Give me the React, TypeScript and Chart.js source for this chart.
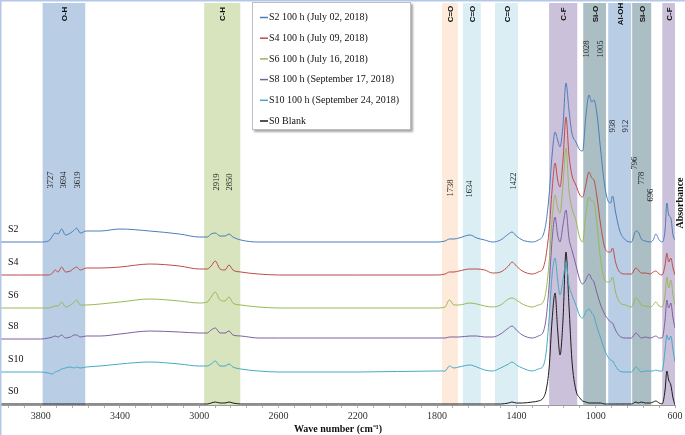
import React, { useEffect, useRef } from 'react';
import { Chart, registerables } from 'chart.js';

Chart.register(...registerables);

// ---------- data ----------
const wavenumbers = [
  4000, 3900, 3800, 3760, 3740, 3727, 3712, 3694, 3675, 3650,
  3630, 3619, 3600, 3570, 3500, 3400, 3250, 3100, 3000, 2960,
  2940, 2919, 2895, 2870, 2850, 2830, 2790, 2700, 2600, 2200,
  1800, 1760, 1738, 1715, 1690, 1634, 1600, 1560, 1520, 1480,
  1440, 1422, 1400, 1370, 1320, 1290, 1265, 1250, 1235, 1220,
  1205, 1192, 1180, 1165, 1150, 1135, 1120, 1100, 1080, 1066,
  1050, 1034, 1020, 1009, 995, 975, 955, 935, 925, 915,
  900, 880, 850, 820, 797, 785, 770, 750, 725, 710,
  697, 680, 665, 650, 641, 632, 621, 610, 600,
];

const seriesNames = [
  'S2 100 h (July 02, 2018)',
  'S4 100 h (July 09, 2018)',
  'S6 100 h (July 16, 2018)',
  'S8 100 h (September 17, 2018)',
  'S10 100 h (September 24, 2018)',
  'S0 Blank',
];
const seriesTags = ['S2', 'S4', 'S6', 'S8', 'S10', 'S0'];

const s2 = [
  1.63, 1.63, 1.63, 1.64, 1.69, 1.72, 1.71, 1.76, 1.70, 1.72,
  1.75, 1.77, 1.72, 1.74, 1.74, 1.76, 1.74, 1.71, 1.68, 1.68,
  1.71, 1.72, 1.69, 1.69, 1.71, 1.68, 1.65, 1.63, 1.63, 1.63,
  1.63, 1.64, 1.66, 1.66, 1.67, 1.70, 1.67, 1.65, 1.63, 1.65,
  1.71, 1.73, 1.69, 1.65, 1.63, 1.65, 1.70, 1.83, 2.10, 2.50,
  2.73, 2.65, 2.58, 2.80, 3.22, 2.95, 2.72, 2.63, 2.55, 2.54,
  2.88, 3.10, 3.03, 3.05, 2.93, 2.55, 2.20, 2.03, 2.02, 2.09,
  1.93, 1.75, 1.65, 1.63, 1.74, 1.73, 1.66, 1.64, 1.63, 1.65,
  1.71, 1.65, 1.63, 1.75, 2.02, 1.90, 1.87, 1.70, 1.65,
];
const s4 = [
  1.30, 1.30, 1.30, 1.30, 1.32, 1.35, 1.33, 1.38, 1.33, 1.34,
  1.37, 1.38, 1.35, 1.37, 1.37, 1.38, 1.41, 1.39, 1.36, 1.36,
  1.39, 1.44, 1.36, 1.35, 1.40, 1.35, 1.33, 1.31, 1.30, 1.30,
  1.30, 1.31, 1.33, 1.33, 1.34, 1.36, 1.36, 1.35, 1.32, 1.33,
  1.39, 1.43, 1.39, 1.34, 1.31, 1.33, 1.37, 1.50, 1.75, 2.15,
  2.42, 2.25, 2.18, 2.45, 2.88, 2.50, 2.30, 2.20, 2.10, 2.08,
  2.20, 2.33, 2.27, 2.25, 2.10, 1.80, 1.58, 1.53, 1.53, 1.57,
  1.43, 1.33, 1.31, 1.31, 1.37, 1.35, 1.32, 1.32, 1.31, 1.33,
  1.34, 1.31, 1.30, 1.40, 1.52, 1.43, 1.47, 1.37, 1.30,
];
const s6 = [
  0.97, 0.97, 0.97, 0.97, 0.98, 0.99, 0.99, 1.03, 0.98, 1.00,
  1.03, 1.05, 1.00, 1.00, 1.01, 1.03, 1.06, 1.04, 1.02, 1.03,
  1.08, 1.13, 1.05, 1.04, 1.08, 1.02, 1.00, 0.98, 0.97, 0.97,
  0.97, 0.98, 1.05, 1.00, 1.00, 1.02, 1.01, 0.99, 0.98, 1.00,
  1.06, 1.07, 1.05, 1.01, 0.98, 1.00, 1.03, 1.15, 1.43, 1.85,
  2.10, 1.97, 1.92, 2.20, 2.57, 2.15, 1.97, 1.85, 1.67, 1.63,
  1.90, 2.08, 2.04, 2.03, 1.83, 1.45, 1.25, 1.23, 1.24, 1.28,
  1.13, 1.03, 1.00, 0.98, 1.07, 1.05, 1.00, 0.99, 0.98, 1.00,
  1.03, 0.99, 0.98, 1.10, 1.28, 1.17, 1.25, 1.10, 1.00,
];
const s8 = [
  0.66, 0.66, 0.66, 0.67, 0.68, 0.69, 0.68, 0.70, 0.67, 0.68,
  0.70, 0.70, 0.68, 0.69, 0.69, 0.71, 0.74, 0.73, 0.72, 0.72,
  0.75, 0.77, 0.72, 0.72, 0.74, 0.70, 0.69, 0.67, 0.67, 0.67,
  0.67, 0.67, 0.68, 0.68, 0.68, 0.69, 0.69, 0.68, 0.68, 0.71,
  0.77, 0.79, 0.75, 0.70, 0.67, 0.69, 0.73, 0.87, 1.20, 1.65,
  1.88, 1.70, 1.63, 1.80, 1.95, 1.67, 1.55, 1.40, 1.25, 1.21,
  1.25, 1.31, 1.26, 1.23, 1.13, 1.00, 0.91, 0.85, 0.83, 0.82,
  0.75, 0.69, 0.67, 0.67, 0.72, 0.70, 0.67, 0.68, 0.67, 0.68,
  0.69, 0.67, 0.67, 0.85, 1.05, 0.97, 1.02, 0.87, 0.77,
];
const s10 = [
  0.33, 0.33, 0.33, 0.32, 0.31, 0.33, 0.34, 0.36, 0.37, 0.38,
  0.37, 0.38, 0.37, 0.38, 0.39, 0.41, 0.43, 0.41, 0.39, 0.39,
  0.41, 0.44, 0.39, 0.39, 0.41, 0.38, 0.36, 0.34, 0.33, 0.33,
  0.34, 0.34, 0.39, 0.37, 0.38, 0.40, 0.38, 0.35, 0.34, 0.37,
  0.41, 0.43, 0.40, 0.37, 0.34, 0.36, 0.39, 0.53, 0.87, 1.30,
  1.47, 1.25, 1.10, 1.25, 1.43, 1.20, 1.10, 1.00, 0.89, 0.87,
  0.93, 0.96, 0.92, 0.89, 0.79, 0.67, 0.55, 0.47, 0.45, 0.44,
  0.39, 0.34, 0.33, 0.33, 0.38, 0.36, 0.33, 0.34, 0.34, 0.34,
  0.35, 0.34, 0.34, 0.55, 0.70, 0.65, 0.69, 0.55, 0.43,
];
const s0 = [
  0.01, 0.01, 0.01, 0.01, 0.01, 0.01, 0.01, 0.01, 0.01, 0.01,
  0.01, 0.01, 0.01, 0.01, 0.01, 0.01, 0.01, 0.01, 0.01, 0.01,
  0.02, 0.03, 0.02, 0.02, 0.03, 0.02, 0.01, 0.01, 0.01, 0.01,
  0.01, 0.01, 0.01, 0.01, 0.01, 0.01, 0.01, 0.01, 0.01, 0.01,
  0.02, 0.03, 0.02, 0.02, 0.03, 0.04, 0.07, 0.15, 0.37, 0.85,
  1.12, 0.75, 0.50, 0.85, 1.53, 1.00, 0.45, 0.15, 0.07, 0.04,
  0.03, 0.02, 0.02, 0.02, 0.02, 0.02, 0.01, 0.01, 0.01, 0.01,
  0.01, 0.01, 0.01, 0.01, 0.03, 0.02, 0.03, 0.02, 0.02, 0.03,
  0.04, 0.02, 0.01, 0.15, 0.34, 0.25, 0.20, 0.07, 0.00,
];
const seriesValues = [s2, s4, s6, s8, s10, s0];

const tickLabels = [3800, 3400, 3000, 2600, 2200, 1800, 1400, 1000, 600];

const bandNames = ['O-H', 'C-H', 'C=O', 'C=O', 'C=O', 'C-F', 'Si-O', 'Al-OH', 'Si-O', 'C-F'];
const bandStart = [3790, 2975, 1775, 1670, 1508, 1235, 1063, 937, 816, 664];
const bandEnd = [3575, 2793, 1695, 1580, 1392, 1093, 948, 821, 720, 600];

const peakText = ['3727', '3694', '3619', '2919', '2850', '1738', '1634', '1422', '1028', '1005', '938', '912', '796', '778', '696'];
const peakLabelWn = [3747, 3682, 3611, 2914, 2848, 1732, 1636, 1414, 1045, 975, 914, 848, 803, 768, 722];
const peakLabelAbs = [2.25, 2.25, 2.25, 2.23, 2.23, 2.17, 2.16, 2.24, 3.56, 3.56, 2.79, 2.79, 2.42, 2.27, 2.10];

// ---------- styles ----------
const SERIES_COLORS = ['#4A7EBB', '#BE4B48', '#98B954', '#7D60A0', '#46AAC5', '#1A1A1A'];
const BAND_COLORS = ['#B9CDE5', '#D7E4BD', '#FDEADA', '#DBEEF4', '#DBEEF4', '#CCC1DA', '#AABEC3', '#B9CDE5', '#AABEC3', '#CCC1DA'];
const SERIF = "'Liberation Serif', 'Times New Roman', serif";
const SANS = "'Liberation Sans', Arial, sans-serif";

function vText(ctx: CanvasRenderingContext2D, text: string, x: number, y: number, font: string, color: string, align: CanvasTextAlign) {
  ctx.save();
  ctx.translate(x, y);
  ctx.rotate(-Math.PI / 2);
  ctx.font = font;
  ctx.fillStyle = color;
  ctx.textAlign = align;
  ctx.textBaseline = 'middle';
  ctx.fillText(text, 0, 0);
  ctx.restore();
}

const decorPlugin = {
  id: 'decor',
  beforeDatasetsDraw(chart: any) {
    const { ctx, chartArea, scales } = chart;
    const xs = scales.x;
    ctx.save();
    bandNames.forEach((_, i) => {
      const x1 = xs.getPixelForValue(bandStart[i]);
      const x2 = xs.getPixelForValue(bandEnd[i]);
      ctx.fillStyle = BAND_COLORS[i];
      ctx.fillRect(Math.min(x1, x2), chartArea.top, Math.abs(x2 - x1), chartArea.bottom - chartArea.top);
    });
    ctx.restore();
  },
  afterDatasetsDraw(chart: any) {
    const { ctx, chartArea, scales } = chart;
    const xs = scales.x;
    const ys = scales.y;
    bandNames.forEach((name, i) => {
      const cx = (xs.getPixelForValue(bandStart[i]) + xs.getPixelForValue(bandEnd[i])) / 2;
      vText(ctx, name, cx + 1, chartArea.top + 11, `bold 8px ${SANS}`, '#111', 'center');
    });
    peakText.forEach((t, i) => {
      vText(ctx, t, xs.getPixelForValue(peakLabelWn[i]), ys.getPixelForValue(peakLabelAbs[i]), `8.5px ${SERIF}`, '#222', 'center');
    });
    ctx.save();
    ctx.font = `10px ${SERIF}`;
    ctx.fillStyle = '#111';
    ctx.textAlign = 'left';
    ctx.textBaseline = 'middle';
    seriesTags.forEach((t, i) => {
      const y = ys.getPixelForValue(seriesValues[i][0]) - 13;
      ctx.fillText(t, chartArea.left + 7, y);
    });
    ctx.restore();
    vText(ctx, 'Absorbance', chartArea.right + 5, 203, `bold 10px ${SERIF}`, '#111', 'center');
    ctx.save();
    const lx = 252, ly = 2, lw = 159, lh = 128;
    ctx.shadowColor = 'rgba(0,0,0,0.35)';
    ctx.shadowOffsetX = 2;
    ctx.shadowOffsetY = 2;
    ctx.shadowBlur = 2;
    ctx.fillStyle = '#fff';
    ctx.fillRect(lx, ly, lw, lh);
    ctx.shadowColor = 'transparent';
    ctx.strokeStyle = '#BFBFBF';
    ctx.lineWidth = 1;
    ctx.strokeRect(lx + 0.5, ly + 0.5, lw - 1, lh - 1);
    ctx.font = `10px ${SERIF}`;
    ctx.textAlign = 'left';
    ctx.textBaseline = 'middle';
    chart.data.datasets.forEach((ds: any, i: number) => {
      const ry = ly + 15.5 + i * 20.7;
      ctx.strokeStyle = ds.borderColor;
      ctx.lineWidth = 1.5;
      ctx.beginPath();
      ctx.moveTo(lx + 8, ry);
      ctx.lineTo(lx + 16, ry);
      ctx.stroke();
      ctx.fillStyle = '#111';
      ctx.fillText(ds.label, lx + 17, ry);
    });
    ctx.restore();
    ctx.save();
    ctx.fillStyle = '#B4C7E7';
    ctx.fillRect(0, 0, chart.width, 1.5);
    ctx.fillRect(0, 0, 1.5, chart.height);
    ctx.restore();
  },
};

export default function App() {
  const canvasRef = useRef<HTMLCanvasElement | null>(null);

  useEffect(() => {
    document.body.style.margin = '0';
    const canvas = canvasRef.current;
    if (!canvas) return;
    const minorTicks: number[] = [];
    for (let v = 600; v <= 3960; v += 80) minorTicks.push(v);

    const chart = new Chart(canvas, {
      type: 'line',
      data: {
        datasets: seriesValues.map((vals, i) => ({
          label: seriesNames[i],
          data: wavenumbers.map((w, j) => ({ x: w, y: vals[j] })),
          borderColor: SERIES_COLORS[i],
          backgroundColor: SERIES_COLORS[i],
          borderWidth: 1,
          pointRadius: 0,
          fill: false,
          cubicInterpolationMode: 'monotone' as const,
        })),
      },
      options: {
        animation: false,
        responsive: false,
        maintainAspectRatio: false,
        devicePixelRatio: 1,
        layout: { padding: { left: 1, right: 10, top: 3, bottom: 0 } },
        plugins: {
          legend: { display: false },
          tooltip: { enabled: false },
        },
        scales: {
          x: {
            type: 'linear',
            reverse: true,
            min: 600,
            max: 4000,
            afterBuildTicks: (scale: any) => {
              scale.ticks = minorTicks.map((v) => ({ value: v }));
            },
            afterFit: (scale: any) => {
              scale.height = 30;
              scale.paddingLeft = 0;
              scale.paddingRight = 0;
            },
            ticks: {
              autoSkip: false,
              maxRotation: 0,
              padding: 2,
              color: '#333',
              font: { family: SERIF, size: 10 },
              callback: (v: any) => (tickLabels.includes(Number(v)) ? String(v) : ''),
            },
            grid: {
              display: true,
              drawOnChartArea: false,
              drawTicks: true,
              tickLength: 3,
              color: '#B0B0B0',
            },
            border: { display: true, color: '#9A9A9A', width: 1 },
            title: {
              display: true,
              text: 'Wave number (cm⁻¹)',
              color: '#111',
              font: { family: SERIF, size: 10, weight: 'bold' },
              padding: { top: 0, bottom: 0 },
            },
          },
          y: {
            display: false,
            min: 0,
            max: 4.02,
          },
        },
      },
      plugins: [decorPlugin],
    } as any);

    return () => chart.destroy();
  }, []);

  return (
    <div style={{ position: 'absolute', left: 0, top: 0, width: 685, height: 435, background: '#fff' }}>
      <canvas ref={canvasRef} width={685} height={435} style={{ display: 'block' }} />
    </div>
  );
}
